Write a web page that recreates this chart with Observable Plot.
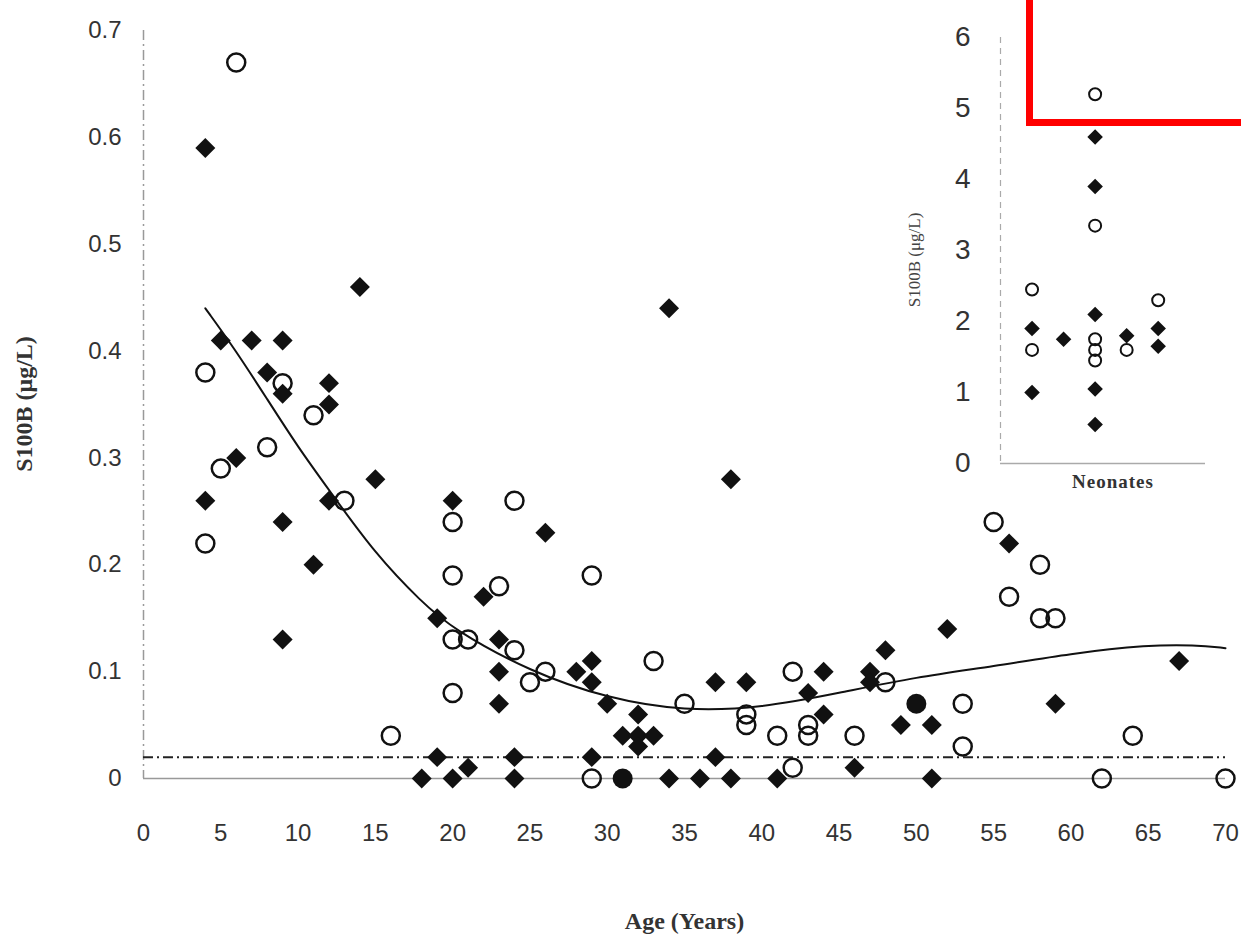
<!DOCTYPE html>
<html>
<head>
<meta charset="utf-8">
<script src="https://cdn.jsdelivr.net/npm/d3@7"></script>
<script src="https://cdn.jsdelivr.net/npm/@observablehq/plot@0.6"></script>
<style>
body { margin: 0; background: #fff; font-family: Arial, "Liberation Sans", sans-serif; }
#wrap { position: relative; width: 1241px; height: 941px; }
#inset { position: absolute; left: 900px; top: 20px; }
#mark { position: absolute; left: 1026px; top: 0; width: 215px; height: 126px;
  border-left: 7px solid #f00; border-bottom: 7px solid #f00; box-sizing: border-box; }
</style>
</head>
<body>
<div id="wrap"><div id="chart"></div><div id="inset"></div><div id="mark"></div></div>
<script>
// filled diamonds (age, S100B)
const diamondAge = [4,5,6,4,7,8,9,9,9,9,11,12,12,12,14,15,19,20,22,23,23,23,26,28,29,29,30,31,32,32,32,33,34,37,38,39,43,44,44,47,47,48,49,51,52,56,59,67,
  18,19,20,21,24,24,29,34,36,37,38,41,46,51]
const diamondVal = [0.59,0.41,0.30,0.26,0.41,0.38,0.41,0.36,0.24,0.13,0.20,0.37,0.35,0.26,0.46,0.28,0.15,0.26,0.17,0.13,0.10,0.07,0.23,0.10,0.11,0.09,0.07,0.04,0.06,0.04,0.03,0.04,0.44,0.09,0.28,0.09,0.08,0.10,0.06,0.10,0.09,0.12,0.05,0.05,0.14,0.22,0.07,0.11,
  0,0.02,0,0.01,0.02,0,0.02,0,0,0.02,0,0,0.01,0]
// filled circles
const dotAge = [31,50]
const dotVal = [0,0.07]
// open circles
const circleAge = [4,4,5,6,8,9,11,13,16,20,20,20,20,21,23,24,24,25,26,29,29,33,35,39,39,41,42,42,43,43,46,48,53,53,55,56,58,58,59,62,64,70]
const circleVal = [0.38,0.22,0.29,0.67,0.31,0.37,0.34,0.26,0.04,0.24,0.19,0.13,0.08,0.13,0.18,0.12,0.26,0.09,0.10,0.19,0,0.11,0.07,0.06,0.05,0.04,0.10,0.01,0.05,0.04,0.04,0.09,0.07,0.03,0.24,0.17,0.20,0.15,0.15,0,0.04,0]
// fitted curve
const fitAge = [4,6,8,10,12,15,18,20,25,30,35,40,45,50,55,60,65,68,70]
const fitVal = [0.44,0.40,0.355,0.31,0.27,0.21,0.165,0.14,0.10,0.075,0.063,0.066,0.08,0.095,0.105,0.117,0.125,0.125,0.122]
const refLevel = 0.02

// neonates inset: column, value
const neoDiamondCol = [1,1,2,3,3,3,3,3,4,5,5]
const neoDiamondVal = [1.9,1.0,1.75,4.6,3.9,2.1,1.05,0.55,1.8,1.9,1.65]
const neoCircleCol = [1,1,3,3,3,3,3,4,5]
const neoCircleVal = [2.45,1.6,5.2,3.35,1.75,1.6,1.45,1.6,2.3]

const pts = (xs, ys) => xs.map((x, i) => ({x, y: ys[i]}))
const diamonds = pts(diamondAge, diamondVal)
const dots = pts(dotAge, dotVal)
const circles = pts(circleAge, circleVal)
const fit = pts(fitAge, fitVal)

const chart = Plot.plot({
  width: 1241, height: 941,
  marginLeft: 143, marginRight: 16, marginTop: 30, marginBottom: 163,
  style: {fontSize: "24px", fontFamily: "Arial, 'Liberation Sans', sans-serif", color: "#333"},
  x: {domain: [0, 70], ticks: d3.range(0, 71, 5), tickSize: 0, tickPadding: 45,
      label: "Age (Years)", labelAnchor: "center", labelArrow: "none", labelOffset: 150},
  y: {domain: [0, 0.7], ticks: d3.range(0, 0.71, 0.1), tickFormat: d => d === 0 ? "0" : d3.format(".1f")(d),
      tickSize: 0, tickPadding: 22, label: null},
  marks: [
    Plot.ruleY([0], {stroke: "#999", strokeWidth: 1.5}),
    Plot.ruleX([0], {stroke: "#999", strokeDasharray: "10,4,2,4", strokeWidth: 1.5}),
    Plot.ruleY([refLevel], {stroke: "#222", strokeWidth: 2, strokeDasharray: "10,4,2,4"}),
    Plot.line(fit, {x: "x", y: "y", curve: "basis", stroke: "#111", strokeWidth: 2}),
    Plot.dot(circles, {x: "x", y: "y", r: 9, stroke: "#111", strokeWidth: 2.5, fill: "none"}),
    Plot.dot(dots, {x: "x", y: "y", r: 10, fill: "#111"}),
    Plot.dot(diamonds, {x: "x", y: "y", r: 9, symbol: "diamond2", fill: "#111"})
  ]
})
d3.select(chart).selectAll("[aria-label='x-axis label'] text, [aria-label='x-axis label']")
  .style("font-family", "'Liberation Serif', serif").style("font-weight", "bold").style("fill", "#333")
d3.select('#chart').append(() => chart)
// y-axis title rotated
d3.select(chart).append("text")
  .attr("transform", "translate(32,404) rotate(-90)")
  .attr("text-anchor", "middle")
  .style("font-family", "'Liberation Serif', serif").style("font-weight", "bold")
  .style("font-size", "24px").style("fill", "#333")
  .text("S100B (μg/L)")

const inset = Plot.plot({
  width: 320, height: 480,
  marginLeft: 100, marginRight: 15, marginTop: 17, marginBottom: 37,
  style: {fontSize: "28px", fontFamily: "Arial, 'Liberation Sans', sans-serif", color: "#333", background: "transparent"},
  x: {domain: [0, 6.5], axis: null},
  y: {domain: [0, 6], ticks: d3.range(0, 7), tickFormat: d3.format("d"), tickSize: 0, tickPadding: 30, label: null},
  marks: [
    Plot.ruleY([0], {stroke: "#aaa", strokeWidth: 1.5}),
    Plot.ruleX([0], {stroke: "#aaa", strokeDasharray: "6,5", strokeWidth: 1.2}),
    Plot.dot(pts(neoCircleCol, neoCircleVal), {x: "x", y: "y", r: 6, stroke: "#111", strokeWidth: 2, fill: "none"}),
    Plot.dot(pts(neoDiamondCol, neoDiamondVal), {x: "x", y: "y", r: 7, symbol: "diamond2", fill: "#111"})
  ]
})
d3.select(inset).append("text")
  .attr("transform", "translate(20,240) rotate(-90)").attr("text-anchor", "middle")
  .style("font-family", "'Liberation Serif', serif").style("font-size", "17px").style("fill", "#444")
  .text("S100B (μg/L)")
d3.select(inset).append("text")
  .attr("x", 213).attr("y", 468).attr("text-anchor", "middle")
  .style("font-family", "'Liberation Serif', serif").style("font-weight", "bold")
  .style("font-size", "19px").style("letter-spacing", "1px").style("fill", "#333")
  .text("Neonates")
d3.select('#inset').append(() => inset)
</script>
</body>
</html>
